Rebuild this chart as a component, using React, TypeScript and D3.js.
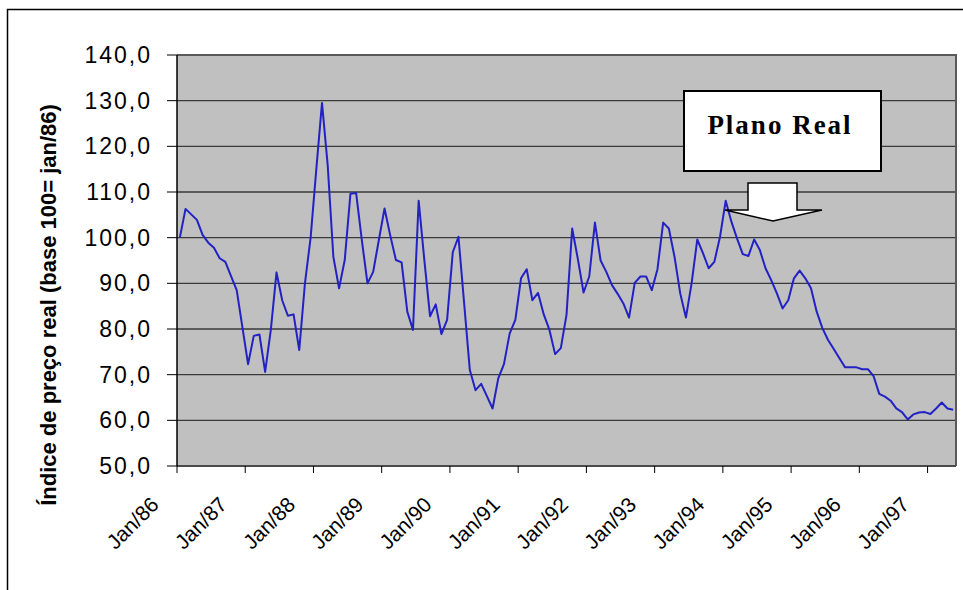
import React from "react";
import * as d3 from "d3";

// Monthly real price index (base 100 = jan/86), one array per year
const values1986 = [100.0, 106.3, 105.1, 103.9, 100.6, 98.9, 97.8, 95.5, 94.7, 91.6, 88.5, 80.4];
const values1987 = [72.3, 78.5, 78.8, 70.6, 79.8, 92.4, 86.3, 82.9, 83.2, 75.4, 90.0, 100.0];
const values1988 = [115.0, 129.5, 115.9, 95.8, 88.9, 95.1, 109.6, 109.8, 99.5, 90.0, 92.5, 99.5];
const values1989 = [106.4, 100.5, 95.1, 94.6, 83.8, 79.8, 108.1, 95.1, 82.8, 85.4, 78.9, 82.0];
const values1990 = [96.8, 100.2, 85.6, 71.0, 66.6, 68.0, 65.3, 62.6, 69.2, 72.3, 79.0, 82.0];
const values1991 = [91.1, 93.1, 86.3, 87.9, 83.2, 79.8, 74.5, 75.8, 83.1, 102.0, 95.3, 88.0];
const values1992 = [91.5, 103.3, 95.0, 92.5, 89.6, 87.7, 85.6, 82.5, 90.1, 91.5, 91.5, 88.5];
const values1993 = [93.1, 103.3, 102.0, 95.8, 87.8, 82.5, 90.0, 99.6, 96.6, 93.3, 94.7, 100.2];
const values1994 = [108.1, 103.5, 99.8, 96.4, 96.0, 99.6, 97.3, 93.3, 90.7, 87.8, 84.5, 86.3];
const values1995 = [91.1, 92.8, 91.1, 88.9, 83.8, 80.2, 77.6, 75.6, 73.6, 71.6, 71.6, 71.6];
const values1996 = [71.2, 71.2, 69.7, 65.8, 65.2, 64.3, 62.6, 61.8, 60.2, 61.3, 61.7, 61.8];
const values1997 = [61.4, 62.6, 63.9, 62.6, 62.3];

const years = ["86", "87", "88", "89", "90", "91", "92", "93", "94", "95", "96", "97"];
const monthNames = ["Jan", "Fev", "Mar", "Abr", "Mai", "Jun", "Jul", "Ago", "Set", "Out", "Nov", "Dez"];
const yTicks = [50, 60, 70, 80, 90, 100, 110, 120, 130, 140];

const yearly = [
  values1986, values1987, values1988, values1989, values1990, values1991,
  values1992, values1993, values1994, values1995, values1996, values1997,
];

const series = yearly.flatMap((vals, yi) =>
  vals.map((v, mi) => ({ key: `${monthNames[mi]}/${years[yi]}`, month: mi, value: v }))
);

const W = 963;
const H = 590;
const plot = { left: 177, right: 956, top: 55, bottom: 466 };

const SANS = "'Liberation Sans', Arial, Helvetica, sans-serif";
const SERIF = "'Liberation Serif', 'Times New Roman', serif";

export default function App() {
  const x = d3
    .scaleBand<string>()
    .domain(series.map((d) => d.key))
    .range([plot.left, plot.right]);
  const cx = (k: string) => (x(k) ?? 0) + x.bandwidth() / 2;

  const y = d3.scaleLinear().domain([50, 140]).range([plot.bottom, plot.top]);

  const line = d3
    .line<(typeof series)[number]>()
    .x((d) => cx(d.key))
    .y((d) => y(d.value));

  const fmt = (v: number) => v.toFixed(1).replace(".", ",");

  const januaries = series.filter((d) => d.month === 0);

  // call-out arrow (block arrow pointing down)
  const ar = { x0: 748, x1: 797, top: 183, neck: 210, hl: 725, hr: 822, tipX: 773, tipY: 221 };
  const arrowPts = [
    [ar.x0, ar.top],
    [ar.x1, ar.top],
    [ar.x1, ar.neck],
    [ar.hr, ar.neck],
    [ar.tipX, ar.tipY],
    [ar.hl, ar.neck],
    [ar.x0, ar.neck],
  ]
    .map((p) => p.join(","))
    .join(" ");

  return (
    <svg
      width={W}
      height={H}
      viewBox={`0 0 ${W} ${H}`}
      style={{ position: "absolute", left: 0, top: 0, background: "#ffffff" }}
    >
      {/* chart frame */}
      <rect x={7.5} y={9.5} width={W + 10} height={H + 10} fill="#ffffff" stroke="#000" strokeWidth={1.5} />

      {/* plot area */}
      <rect
        x={plot.left}
        y={plot.top}
        width={plot.right - plot.left}
        height={plot.bottom - plot.top}
        fill="#c0c0c0"
      />

      {/* gridlines */}
      {yTicks.slice(1, -1).map((t) => (
        <line key={t} x1={plot.left} x2={plot.right} y1={y(t)} y2={y(t)} stroke="#3a3a3a" strokeWidth={1.3} />
      ))}

      {/* plot border (top / right) */}
      <path
        d={`M${plot.left},${plot.top}H${plot.right}V${plot.bottom}`}
        fill="none"
        stroke="#5a5a5a"
        strokeWidth={2}
      />

      {/* data line */}
      <path d={line(series) ?? ""} fill="none" stroke="#2222c4" strokeWidth={2} strokeLinejoin="round" />

      {/* x axis */}
      <line x1={plot.left} x2={plot.right} y1={plot.bottom} y2={plot.bottom} stroke="#4a4a4a" strokeWidth={2} />
      {januaries.map((d) => {
        const tx = x(d.key) ?? 0;
        return (
          <line key={d.key} x1={tx} x2={tx} y1={plot.bottom} y2={plot.bottom + 7} stroke="#000" strokeWidth={1} />
        );
      })}
      {januaries.map((d) => {
        const tx = x(d.key) ?? 0;
        return (
          <text
            key={d.key}
            transform={`translate(${tx - 17},${plot.bottom + 40}) rotate(-45)`}
            textAnchor="end"
            fontFamily={SANS}
            fontSize={21}
            fill="#000"
          >
            {d.key}
          </text>
        );
      })}

      {/* y axis */}
      <line x1={plot.left} x2={plot.left} y1={plot.top} y2={plot.bottom} stroke="#000" strokeWidth={1.5} />
      {yTicks.map((t) => (
        <g key={t}>
          <line x1={plot.left - 10} x2={plot.left} y1={y(t)} y2={y(t)} stroke="#000" strokeWidth={1} />
          <text
            x={152}
            y={y(t) + 8}
            textAnchor="end"
            fontFamily={SANS}
            fontSize={23}
            letterSpacing={2}
            fill="#000"
          >
            {fmt(t)}
          </text>
        </g>
      ))}

      <text
        transform={`translate(56,305) rotate(-90)`}
        textAnchor="middle"
        fontFamily={SANS}
        fontSize={22}
        fontWeight="bold"
        fill="#000"
      >
        Índice de preço real (base 100= jan/86)
      </text>

      {/* annotation */}
      <rect x={684} y={91} width={197} height={80} fill="#ffffff" stroke="#000" strokeWidth={2} />
      <text
        x={780}
        y={134}
        textAnchor="middle"
        fontFamily={SERIF}
        fontWeight="bold"
        fontSize={27}
        letterSpacing={2}
        fill="#000"
      >
        Plano Real
      </text>
      <polygon points={arrowPts} fill="#ffffff" stroke="#000" strokeWidth={1.5} strokeLinejoin="miter" />
    </svg>
  );
}
